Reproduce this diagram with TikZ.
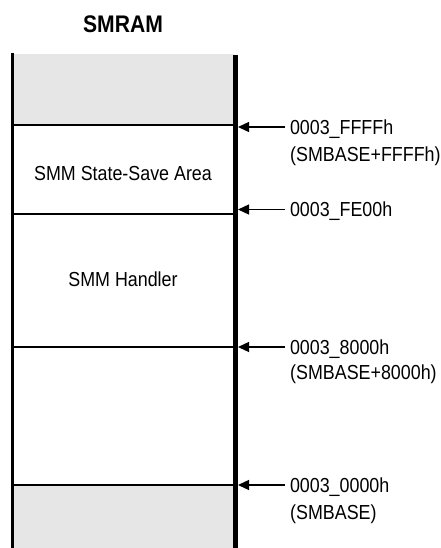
\documentclass[tikz,border=0pt]{standalone}
\usepackage{fontspec}
\setmainfont{Liberation Sans}[FakeStretch=0.88]
\definecolor{smgray}{RGB}{230,230,230}
\usetikzlibrary{arrows.meta,positioning}

\begin{document}
\begin{tikzpicture}[x=1pt,y=1pt,>={Triangle[length=11pt,width=10pt]},
  region/.style={anchor=base,inner sep=0pt,font=\fontsize{20.3}{25}\selectfont},
  addr/.style={anchor=west,inner sep=0pt,outer xsep=5pt,text height=14.5pt,
               text depth=0pt,font=\fontsize{20.3}{25}\selectfont},
  addrsub/.style={anchor=base west,inner sep=0pt,font=\fontsize{20.3}{25}\selectfont}]
  \useasboundingbox (0,0) rectangle (441,-548);
  % shaded (unused) parts
  \fill[smgray] (13,-54) rectangle (234,-125);
  \fill[smgray] (13,-485) rectangle (234,-548);
  \node[anchor=base,inner sep=0pt,font=\fontsize{24}{28}\selectfont\bfseries] (title) at (123,-33) {SMRAM};
  % boundaries
  \draw[line width=1.3pt] (13,-214) -- (234,-214);
  \draw[line width=1.3pt] (13,-347) -- (234,-347);
  \draw[line width=2pt] (13,-125) -- (234,-125);
  \draw[line width=2pt] (13,-484.5) -- (234,-484.5);
  \draw[line width=2.2pt] (12.5,-53) -- (12.5,-548);
  \draw[line width=5pt] (235.5,-55) -- (235.5,-548);
  \node[region] (save) at (123,-180) {SMM State-Save Area};
  \node[region] (handler) at (123,-286) {SMM Handler};
  % addresses
  \coordinate (w1) at (238,-127);
  \coordinate (w2) at (238,-209.5);
  \coordinate (w3) at (238,-347);
  \coordinate (w4) at (238,-485);
  \node[addr] (a1) at (285,-127) {0003\_FFFFh};
  \node[addrsub] (b1) at (290,-161.5) {(SMBASE+FFFFh)};
  \node[addr] (a2) at (285,-209.5) {0003\_FE00h};
  \node[addr] (a3) at (285,-347) {0003\_8000h};
  \node[addrsub] (b3) at (290,-379) {(SMBASE+8000h)};
  \node[addr] (a4) at (285,-485) {0003\_0000h};
  \node[addrsub] (b4) at (290,-519) {(SMBASE)};
  \draw[->,line width=1.3pt] (a1) -- (w1);
  \draw[->,line width=1.3pt] (a2) -- (w2);
  \draw[->,line width=1.3pt] (a3) -- (w3);
  \draw[->,line width=1.3pt] (a4) -- (w4);
\end{tikzpicture}
\end{document}
